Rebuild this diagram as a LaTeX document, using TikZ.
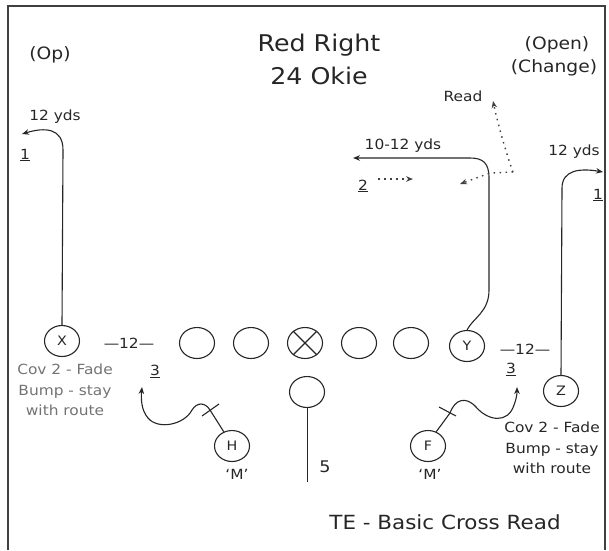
\documentclass[tikz,border=0pt]{standalone}
\usepackage{fontspec}
\newfontfamily\lbl[FakeStretch=1.1]{DejaVu Sans}
\usetikzlibrary{shapes.geometric,arrows.meta}
\begin{document}
\begin{tikzpicture}[x=1pt,y=-1pt,
  ln/.style={line width=1.1pt, draw=black!85},
  dotl/.style={line width=1.4pt, draw=black!75, dash pattern=on 1.5pt off 4.5pt},
  pl/.style={ellipse, draw=black!85, line width=1.1pt, minimum width=35pt, minimum height=31pt, inner sep=0pt, font=\lbl\fontsize{13}{15}\selectfont, text=black!85},
  tip/.style={-{Stealth[length=7pt,width=5.5pt]}},
  sm/.style={font=\lbl\fontsize{14}{20.5}\selectfont, text=black!85, align=center, inner sep=0pt},
  md/.style={font=\lbl\fontsize{17}{20}\selectfont, text=black!85, inner sep=0pt},
  big/.style={font=\lbl\fontsize{23}{26}\selectfont, text=black!85, inner sep=0pt}]
\useasboundingbox (0,0) rectangle (609,550);
% frame
\draw[line width=1.6pt, black!75] (8,550) -- (8,6) -- (605,6) -- (605,550);

% texts
\node[md] (op) at (50,55) {(Op)};
\node[big] (t1) at (319,45) {Red Right};
\node[big] (t2) at (319,76) {24 Okie};
\node[md] (open) at (557,45) {(Open)};
\node[md] (chg) at (554,68) {(Change)};
\node[font=\lbl\fontsize{19.5}{22}\selectfont, text=black!85, inner sep=0pt] (te) at (445,522) {TE - Basic Cross Read};

% players
\node[pl] (x) at (62,341) {X};
\node[pl] (o1) at (197,343) {};
\node[pl] (o2) at (251,343) {};
\node[pl] (c) at (305,343) {};
\node[pl] (o4) at (359,343) {};
\node[pl] (o5) at (411,343) {};
\node[pl] (y) at (467,346) {Y};
\node[pl] (z) at (561,391) {Z};
\node[pl] (h) at (232,446) {H};
\node[pl] (f) at (428,446) {F};
\node[pl] (b) at (307,392) {};
\draw[ln] (c.45) -- (c.225) (c.135) -- (c.315);

% labels
\node[sm] (yl1) at (55,117) {12 yds};
\node[sm] (n1l) at (25,155) {\underline{1}};
\node[sm] (yl2) at (574,152) {12 yds};
\node[sm] (n1r) at (598,195) {\underline{1}};
\node[sm] (yl3) at (403,146) {10-12 yds};
\node[sm] (n2) at (363,186) {\underline{2}};
\node[sm] (rd) at (463,96) {Read};
\node[sm] (d1) at (129,343) {—12—};
\node[sm] (d2) at (525,349) {—12—};
\node[sm] (n3l) at (155,371) {\underline{3}};
\node[sm] (n3r) at (511,369) {\underline{3}};
\node[sm, text=black!55] (covl) at (65,390) {Cov 2 - Fade\\Bump - stay\\with route};
\node[sm] (covr) at (552,448) {Cov 2 - Fade\\Bump - stay\\with route};
\node[sm] (m1) at (237,474) {‘M’};
\node[sm] (m2) at (430,474) {‘M’};
\node[sm, font=\lbl\fontsize{16}{18}\selectfont] (n5) at (325,467) {5};

% routes
\coordinate (xe) at (22,134);
\draw[ln,tip] (x.north) -- (63,150) .. controls (63,128) and (45,127) .. (xe);
\coordinate (ze) at (603,172);
\draw[ln,tip] (z.north) -- (562,188) .. controls (562,170) and (580,168) .. (ze);
\coordinate (ye) at (353,158);
\draw[ln,tip] (y.north) .. controls (473,318) and (489,312) .. (489,290) -- (489,178)
   .. controls (489,163) and (483,158) .. (470,158) -- (ye);
% dotted reads
\coordinate (d2s) at (378,179);
\coordinate (d2e) at (413,179);
\draw[dotl,tip] (d2s) -- (d2e);
\coordinate (br) at (513,172);
\coordinate (rde) at (493,101);
\coordinate (dle) at (460,184);
\draw[dotl,tip] (br) .. controls (505,150) and (497,120) .. (rde);
\draw[dotl,tip] (br) -- (490,173) -- (dle);
% H route
\coordinate (hb) at (210,410);
\coordinate (he) at (142,387);
\draw[ln] (h.120) -- (hb);
\draw[ln] (202,416) -- (219,404);
\draw[ln,tip] (hb) .. controls (205,402) and (197,402) .. (192,410)
   .. controls (184,425) and (158,430) .. (148,418)
   .. controls (141,410) and (141,398) .. (he);
% F route
\coordinate (fb) at (450,413);
\coordinate (fe) at (517,387);
\draw[ln] (f.60) -- (fb);
\draw[ln] (439,407) -- (456,416);
\draw[ln,tip] (fb) .. controls (455,399) and (466,396) .. (476,407)
   .. controls (488,421) and (508,424) .. (514,405)
   .. controls (516,400) and (517,395) .. (fe);
% back
\coordinate (be) at (307,482);
\draw[line width=0.8pt, draw=black!85] (b.south) -- (be);
\end{tikzpicture}
\end{document}
